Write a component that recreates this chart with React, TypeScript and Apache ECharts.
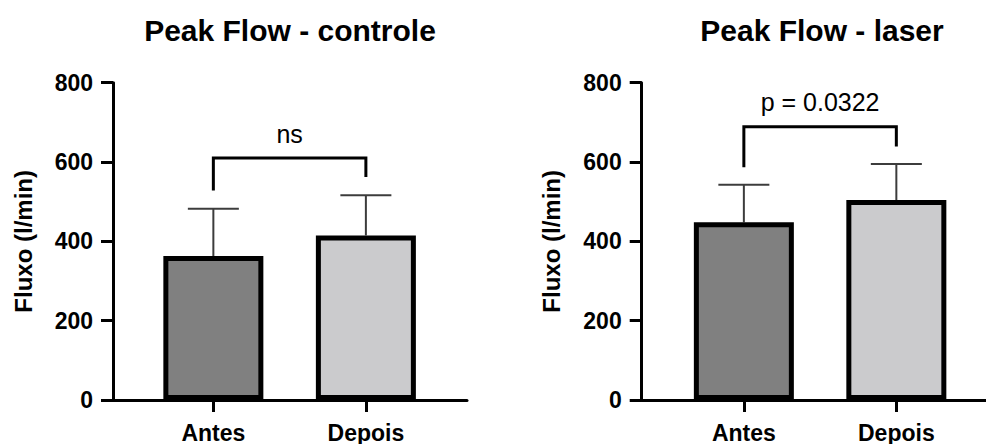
import React, { useEffect, useRef } from "react";
import * as echarts from "echarts";

// Groups and measurements (peak expiratory flow, l/min)
const categories = ["Antes", "Depois"];
const barColors = ["#808080", "#cbcbcd"];

const controleMeans = [363, 415];
const controleSD = [119, 101];

const laserMeans = [448, 504];
const laserSD = [95, 91];

// Significance brackets: [bar level, left leg end, right leg end]
const controleBracket = [610, 528, 562];
const controleLabel = "ns";
const laserBracket = [689, 587, 639];
const laserLabel = "p = 0.0322";

const yTicks = { min: 0, max: 800, interval: 200 };

const FONT = "'Liberation Sans', Arial, Helvetica, sans-serif";

function panelAxes(gridIndex: number, xMin: number, xMax: number) {
  const xAxis = {
    type: "value",
    gridIndex,
    min: xMin,
    max: xMax,
    splitLine: { show: false },
    axisLine: { onZero: false, lineStyle: { color: "#000", width: 3 } },
    axisTick: {
      customValues: categories.map((_, i) => i),
      length: 12,
      lineStyle: { color: "#000", width: 3 },
    },
    axisLabel: {
      customValues: categories.map((_, i) => i),
      formatter: (v: number) => categories[Math.round(v)] ?? "",
      color: "#000",
      fontFamily: FONT,
      fontWeight: "bold",
      fontSize: 23,
      margin: 21,
    },
  };
  const yAxis = {
    type: "value",
    gridIndex,
    min: yTicks.min,
    max: yTicks.max,
    interval: yTicks.interval,
    name: "Fluxo (l/min)",
    nameLocation: "middle",
    nameGap: 78,
    nameTextStyle: {
      color: "#000",
      fontFamily: FONT,
      fontWeight: "bold",
      fontSize: 24,
    },
    splitLine: { show: false },
    axisLine: { show: true, onZero: false, lineStyle: { color: "#000", width: 3 } },
    axisTick: { show: true, length: 12, lineStyle: { color: "#000", width: 3 } },
    axisLabel: {
      color: "#000",
      fontFamily: FONT,
      fontWeight: "bold",
      fontSize: 23,
      margin: 20,
    },
  };
  return { xAxis, yAxis };
}

function panelSeries(
  idx: number,
  means: number[],
  sds: number[],
  bracket: number[],
  label: string
) {
  const bars = {
    type: "bar",
    xAxisIndex: idx,
    yAxisIndex: idx,
    barWidth: 100,
    z: 3,
    data: means.map((m, i) => ({
      value: [i, m],
      itemStyle: { color: barColors[i] },
    })),
    itemStyle: { borderColor: "#000", borderWidth: 5 },
  };

  const errorBars = {
    type: "custom",
    xAxisIndex: idx,
    yAxisIndex: idx,
    z: 2,
    data: means.map((m, i) => [i, m, m + sds[i]]),
    renderItem: (params: any, api: any) => {
      const x = api.value(0);
      const base = api.coord([x, api.value(1)]);
      const top = api.coord([x, api.value(2)]);
      const half = 25.5;
      const style = { stroke: "#3c3c3c", lineWidth: 2, fill: null };
      return {
        type: "group",
        children: [
          { type: "line", shape: { x1: base[0], y1: base[1], x2: top[0], y2: top[1] }, style },
          { type: "line", shape: { x1: top[0] - half, y1: top[1], x2: top[0] + half, y2: top[1] }, style },
        ],
      };
    },
  };

  const brackets = {
    type: "custom",
    xAxisIndex: idx,
    yAxisIndex: idx,
    z: 4,
    data: [[0, 1, bracket[0], bracket[1], bracket[2]]],
    renderItem: (params: any, api: any) => {
      const x1 = api.value(0);
      const x2 = api.value(1);
      const topL = api.coord([x1, api.value(2)]);
      const topR = api.coord([x2, api.value(2)]);
      const endL = api.coord([x1, api.value(3)]);
      const endR = api.coord([x2, api.value(4)]);
      return {
        type: "group",
        children: [
          {
            type: "polyline",
            shape: { points: [endL, topL, topR, endR] },
            style: { stroke: "#000", lineWidth: 3, fill: null },
          },
          {
            type: "text",
            x: (topL[0] + topR[0]) / 2,
            y: topL[1] - 12,
            style: {
              text: label,
              fill: "#000",
              font: `25px ${FONT}`,
              textAlign: "center",
              textVerticalAlign: "bottom",
            },
          },
        ],
      };
    },
  };

  return [bars, errorBars, brackets];
}

export default function App() {
  const ref = useRef<HTMLDivElement>(null);

  useEffect(() => {
    if (!ref.current) return;
    const chart = echarts.init(ref.current, null, { renderer: "svg" });

    const left = panelAxes(0, -0.658, 1.663);
    const right = panelAxes(1, -0.67, 1.588);

    const titleStyle = { fontFamily: FONT, fontWeight: "bold", fontSize: 30, color: "#000" };

    chart.setOption({
      animation: false,
      backgroundColor: "#fff",
      title: [
        { text: "Peak Flow - controle", left: 290, top: 15, padding: 0, textAlign: "center", textStyle: titleStyle },
        { text: "Peak Flow - laser", left: 822, top: 15, padding: 0, textAlign: "center", textStyle: titleStyle },
      ],
      grid: [
        { left: 113, top: 82.7, width: 354, height: 318 },
        { left: 641.7, top: 82.7, width: 344.3, height: 318 },
      ],
      xAxis: [left.xAxis, right.xAxis],
      yAxis: [left.yAxis, right.yAxis],
      series: [
        ...panelSeries(0, controleMeans, controleSD, controleBracket, controleLabel),
        ...panelSeries(1, laserMeans, laserSD, laserBracket, laserLabel),
      ],
    });

    return () => chart.dispose();
  }, []);

  return (
    <div
      ref={ref}
      style={{ position: "fixed", left: 0, top: 0, width: 986, height: 444 }}
    />
  );
}
